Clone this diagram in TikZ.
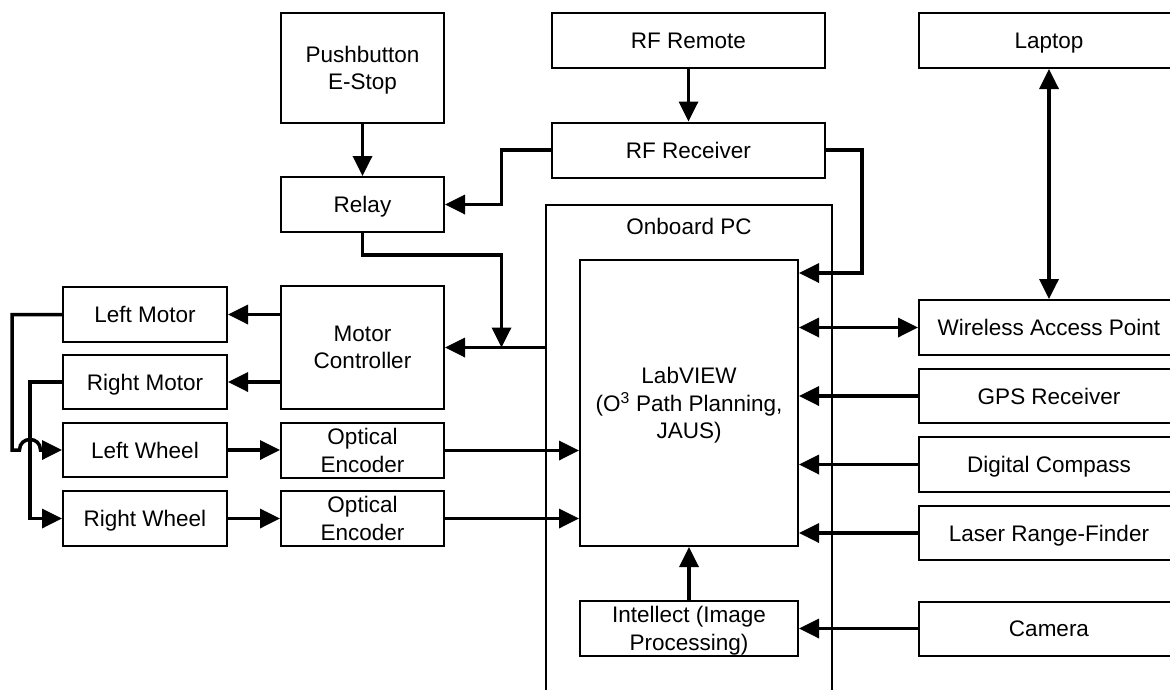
\documentclass[tikz,border=0pt]{standalone}
\usepackage{fontspec}
\setmainfont{Liberation Sans}
\usetikzlibrary{arrows.meta}
\begin{document}
\begin{tikzpicture}[x=1pt,y=-1pt,
  box/.style={draw, line width=2pt, inner sep=0pt, align=center,
    minimum width=163pt, minimum height=55pt, text depth=0pt,
    font=\fontsize{22.5}{27.5}\selectfont},
  wide/.style={box, minimum width=273pt},
  side/.style={box, minimum width=260pt},
  tip/.tip={Triangle[length=20pt,width=19pt]},
  link/.style={line width=3.5pt, -tip},
  both/.style={line width=3.5pt, tip-tip}]
\useasboundingbox (0,0) rectangle (1170,689);
\clip (0,0) rectangle (1170,689);

% top row
\node[box, minimum height=110pt] (estop) at (362.5,68) {Pushbutton\\E-Stop};
\node[wide] (rfremote) at (688.5,40.5) {RF Remote};
\node[side] (laptop) at (1049,40.5) {Laptop};
\node[wide] (rfrecv) at (688.5,150) {RF Receiver};
\node[box] (relay) at (362.5,204.5) {Relay};

% onboard computer enclosure (runs off the bottom edge)
\draw[line width=2pt] (546,700) -- (546,205) -- (832,205) -- (832,700);
\node[font=\fontsize{22.5}{27.5}\selectfont, text depth=0pt] (pc) at (689,226) {Onboard PC};
\coordinate (pcl) at (546,347.5);
\node[box, minimum width=218pt, minimum height=286pt] (labview) at (689,403)
  {LabVIEW\\(O\textsuperscript{3} Path Planning,\\JAUS)};
\node[box, minimum width=218pt] (intellect) at (689,628.5) {Intellect (Image\\Processing)};

% drive train
\node[box, minimum height=123pt] (motorctrl) at (362.5,347.5) {Motor\\Controller};
\node[box, minimum width=164pt] (leftmotor) at (145,314.5) {Left Motor};
\node[box, minimum width=164pt, minimum height=54pt] (rightmotor) at (145,382) {Right Motor};
\node[box, minimum width=164pt, minimum height=54pt] (leftwheel) at (145,450) {Left Wheel};
\node[box, minimum width=164pt] (rightwheel) at (145,518.5) {Right Wheel};
\node[box] (enc1) at (362.5,450.5) {Optical\\Encoder};
\node[box] (enc2) at (362.5,518.5) {Optical\\Encoder};

% sensors and network
\node[side] (wap) at (1049,327.5) {Wireless Access Point};
\node[side, minimum height=54pt] (gps) at (1049,396) {GPS Receiver};
\node[side] (compass) at (1049,464.5) {Digital Compass};
\node[side, minimum height=54pt] (laser) at (1049,533) {Laser Range-Finder};
\node[side, minimum height=54pt] (camera) at (1049,628.5) {Camera};

% connections
\draw[link] (estop) -- (relay);
\draw[link] (rfremote) -- (rfrecv);
\draw[both] (laptop) -- (wap);
\draw[link] (rfrecv.west) -- (501.5,150) -- (501.5,204.5) -- (relay.east);
\coordinate (join) at (501.5,347.5);
\draw[link] (relay.south) -- (362.5,255) -- (501.5,255) -- (join);
\draw[link] (pcl) -- (motorctrl.east |- pcl);
\draw[link] (motorctrl.west |- leftmotor) -- (leftmotor.east);
\draw[link] (motorctrl.west |- rightmotor) -- (rightmotor.east);
\draw[link] (leftmotor.west) -- (12,314.5) -- (12,450) -- (19.5,450)
  .. controls (19.5,436) and (40.5,436) .. (40.5,450) -- (leftwheel.west);
\draw[link] (rightmotor.west) -- (30,382) -- (30,518.5) -- (rightwheel.west);
\draw[link] (leftwheel) -- (enc1.west |- leftwheel);
\draw[link] (rightwheel) -- (enc2);
\draw[link] (enc1.east) -- (labview.west |- enc1);
\draw[link] (enc2.east) -- (labview.west |- enc2);
\draw[link] (rfrecv.east) -- (862,150) -- (862,273) -- (labview.east |- 0,273);
\draw[both] (labview.east |- wap) -- (wap.west);
\draw[link] (gps.west) -- (labview.east |- gps);
\draw[link] (compass.west) -- (labview.east |- compass);
\draw[link] (laser.west) -- (labview.east |- laser);
\draw[link] (camera.west) -- (intellect.east);
\draw[link] (intellect) -- (labview);
\end{tikzpicture}
\end{document}
